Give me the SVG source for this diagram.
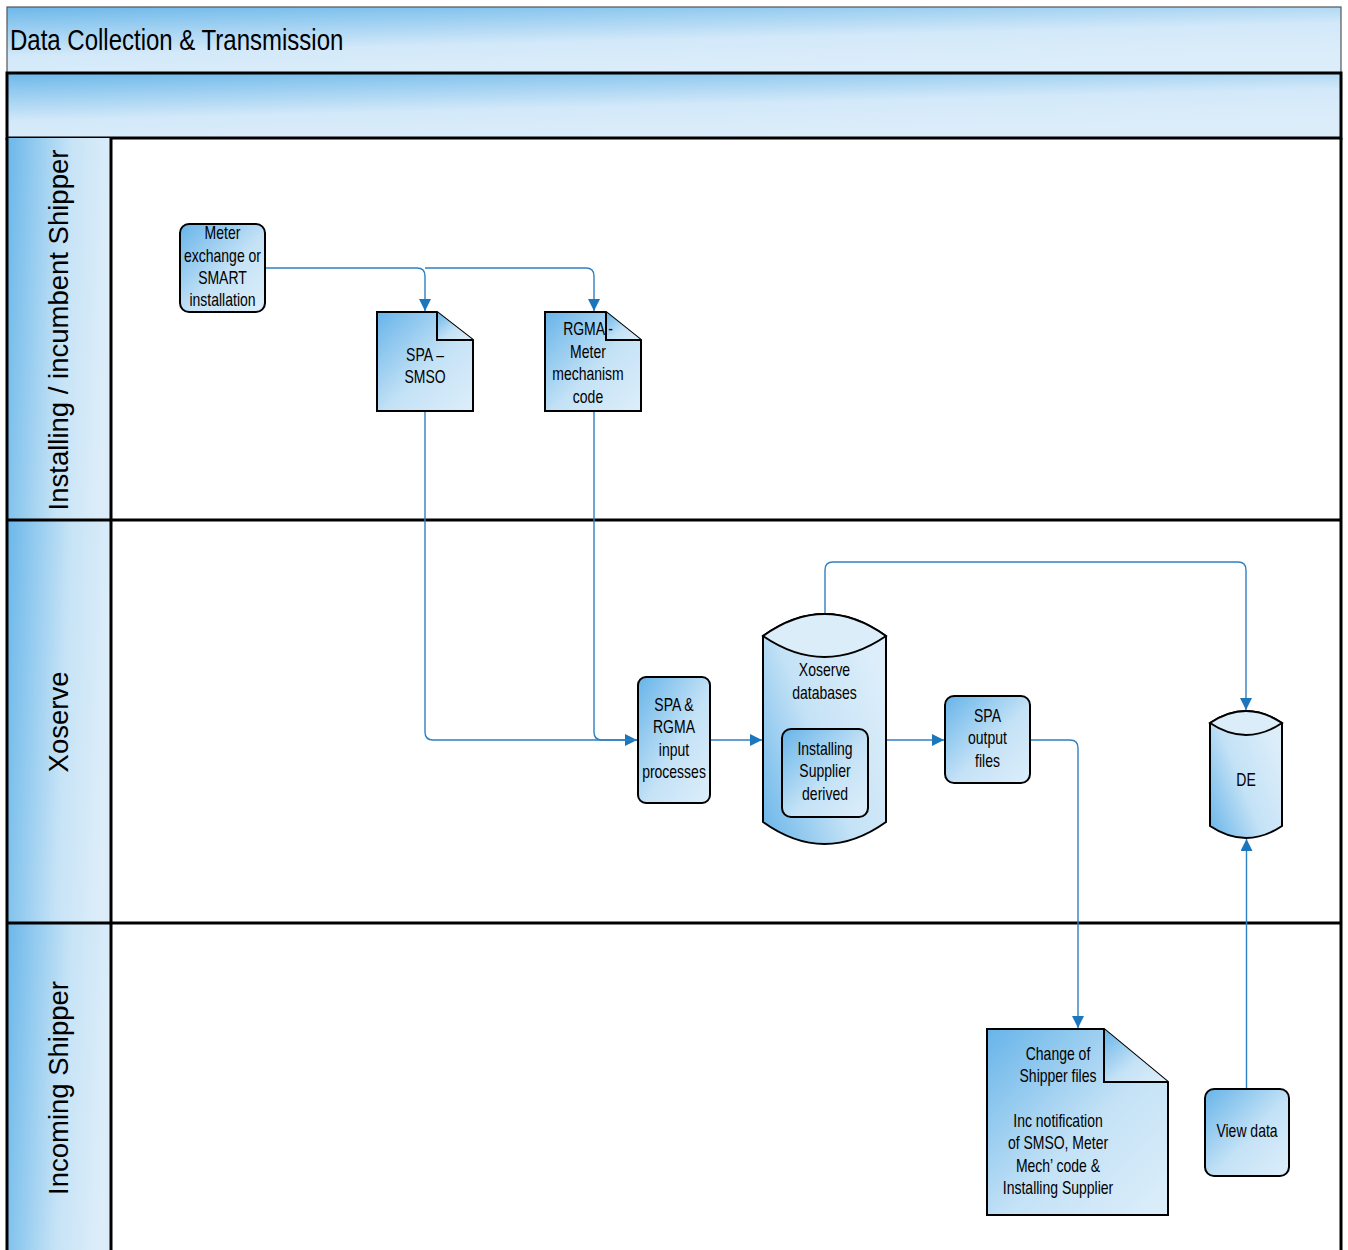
<svg xmlns="http://www.w3.org/2000/svg" width="1348" height="1250" viewBox="0 0 1348 1250">
<style>
.lane{fill:none;stroke:#000;stroke-width:3}
.node{stroke:#000;stroke-width:2;fill:url(#ng)}
.t{font-family:"Liberation Sans",Arial,sans-serif;font-size:17.5px;fill:#000;text-anchor:middle}
.lt{font-family:"Liberation Sans",Arial,sans-serif;font-size:27.5px;fill:#000;text-anchor:middle}
.c{fill:none;stroke:#2f80c2;stroke-width:1.4}
</style>
<defs>
<linearGradient id="ng" x1="0" y1="0" x2="1" y2="1">
<stop offset="0" stop-color="#67b4e9"/>
<stop offset="0.55" stop-color="#c4e2f6"/>
<stop offset="1" stop-color="#ddeefa"/>
</linearGradient>
<linearGradient id="cg" x1="0" y1="1" x2="1" y2="0.3">
<stop offset="0" stop-color="#67b4e9"/>
<stop offset="0.5" stop-color="#c4e2f6"/>
<stop offset="1" stop-color="#ddeefa"/>
</linearGradient>
<linearGradient id="hg" x1="0" y1="0" x2="1" y2="0.15">
<stop offset="0" stop-color="#6ab7ea"/>
<stop offset="0.6" stop-color="#c6e3f6"/>
<stop offset="1" stop-color="#dcedf9"/>
</linearGradient>
<linearGradient id="bg" x1="0" y1="0" x2="0.5" y2="1">
<stop offset="0" stop-color="#6cb8ea"/>
<stop offset="0.6" stop-color="#d3e9f9"/>
<stop offset="1" stop-color="#dcedfa"/>
</linearGradient>
<marker id="ar" viewBox="0 0 12 12" refX="12" refY="6" markerWidth="12" markerHeight="12" markerUnits="userSpaceOnUse" orient="auto">
<path d="M0,0 L12,6 L0,12 Z" fill="#1c76bc"/>
</marker>
</defs>
<rect width="1348" height="1250" fill="#fff"/>
<g id="pool">
<rect x="7" y="7" width="1334" height="66" fill="url(#bg)" stroke="#555" stroke-width="1.2"/>
<text transform="translate(10,50) scale(0.8,1)" font-family="Liberation Sans,Arial,sans-serif" font-size="30" fill="#000">Data Collection &amp; Transmission</text>
<rect x="7" y="73" width="1334" height="65" fill="url(#bg)" stroke="#000" stroke-width="3"/>
<rect x="7" y="138" width="104" height="382" fill="url(#hg)"/>
<rect x="7" y="520" width="104" height="403" fill="url(#hg)"/>
<rect x="7" y="923" width="104" height="330" fill="url(#hg)"/>
<path class="lane" d="M7,138 V1252 M111,138 V1252 M1341,138 V1252 M7,520 H1341 M7,923 H1341"/>
<text class="lt" transform="translate(68,330) rotate(-90)">Installing / incumbent Shipper</text>
<text class="lt" transform="translate(68,722) rotate(-90)">Xoserve</text>
<text class="lt" transform="translate(68,1088) rotate(-90)">Incoming Shipper</text>
</g>
<g id="connectors">
<path class="c" d="M265,268 H417 Q425,268 425,276 V311" marker-end="url(#ar)"/>
<path class="c" d="M425,268 H586 Q594,268 594,276 V311" marker-end="url(#ar)"/>
<path class="c" d="M425,411 V732 Q425,740 433,740 H637" marker-end="url(#ar)"/>
<path class="c" d="M594,411 V732 Q594,740 602,740 H637"/>
<path class="c" d="M710,740 H762" marker-end="url(#ar)"/>
<path class="c" d="M886,740 H944" marker-end="url(#ar)"/>
<path class="c" d="M1030,740 H1070 Q1078,740 1078,748 V1028" marker-end="url(#ar)"/>
<path class="c" d="M825,614 V570 Q825,562 833,562 H1238 Q1246,562 1246,570 V710" marker-end="url(#ar)"/>
<path class="c" d="M1246.5,1089 V839" marker-end="url(#ar)"/>
</g>
<g id="meter">
<rect class="node" x="180" y="224" width="85" height="88" rx="9"/>
<text class="t" transform="translate(222.5,0) scale(0.8,1)"><tspan x="0" y="239">Meter</tspan><tspan x="0" y="262">exchange or</tspan><tspan x="0" y="284">SMART</tspan><tspan x="0" y="306">installation</tspan></text>
</g>
<g id="spa-smso">
<path class="node" d="M377,312 H437 L473,340 V411 H377 Z"/>
<path class="node" d="M437,312 V340 H473"/>
<text class="t" transform="translate(425,0) scale(0.8,1)"><tspan x="0" y="361">SPA –</tspan><tspan x="0" y="383">SMSO</tspan></text>
</g>
<g id="rgma">
<path class="node" d="M545,312 H606 L641,340 V411 H545 Z"/>
<path class="node" d="M606,312 V340 H641"/>
<text class="t" transform="translate(588,0) scale(0.8,1)"><tspan x="0" y="335">RGMA -</tspan><tspan x="0" y="358">Meter</tspan><tspan x="0" y="380">mechanism</tspan><tspan x="0" y="403">code</tspan></text>
</g>
<g id="input">
<rect class="node" x="638" y="677" width="72" height="126" rx="8"/>
<text class="t" transform="translate(674,0) scale(0.8,1)"><tspan x="0" y="711">SPA &amp;</tspan><tspan x="0" y="733">RGMA</tspan><tspan x="0" y="756">input</tspan><tspan x="0" y="778">processes</tspan></text>
</g>
<g id="xoserve-db">
<path class="node" style="fill:url(#cg)" d="M763,636 Q824.5,592 886,636 V822 Q824.5,866 763,822 Z"/>
<path class="node" style="fill:#dcedfa" d="M763,636 Q824.5,592 886,636 Q824.5,678 763,636 Z"/>
<text class="t" transform="translate(824.5,0) scale(0.8,1)"><tspan x="0" y="676">Xoserve</tspan><tspan x="0" y="699">databases</tspan></text>
<rect class="node" x="782" y="729" width="86" height="88" rx="9"/>
<text class="t" transform="translate(825,0) scale(0.8,1)"><tspan x="0" y="755">Installing</tspan><tspan x="0" y="777">Supplier</tspan><tspan x="0" y="800">derived</tspan></text>
</g>
<g id="spa-output">
<rect class="node" x="945" y="696" width="85" height="87" rx="9"/>
<text class="t" transform="translate(987.5,0) scale(0.8,1)"><tspan x="0" y="722">SPA</tspan><tspan x="0" y="744">output</tspan><tspan x="0" y="767">files</tspan></text>
</g>
<g id="de">
<path class="node" style="fill:url(#cg)" d="M1210,723 Q1246,699 1282,723 V826 Q1246,850 1210,826 Z"/>
<path class="node" style="fill:#dcedfa" d="M1210,723 Q1246,699 1282,723 Q1246,747 1210,723 Z"/>
<text class="t" transform="translate(1246,0) scale(0.8,1)" x="0" y="786">DE</text>
</g>
<g id="change-of-shipper">
<path class="node" d="M987,1029 H1104 L1168,1082 V1215 H987 Z"/>
<path class="node" d="M1104,1029 V1082 H1168"/>
<text class="t" transform="translate(1058,0) scale(0.8,1)"><tspan x="0" y="1060">Change of</tspan><tspan x="0" y="1082">Shipper files</tspan><tspan x="0" y="1127">Inc notification</tspan><tspan x="0" y="1149">of SMSO, Meter</tspan><tspan x="0" y="1172">Mech’ code &amp;</tspan><tspan x="0" y="1194">Installing Supplier</tspan></text>
</g>
<g id="view-data">
<rect class="node" x="1205" y="1089" width="84" height="87" rx="9"/>
<text class="t" transform="translate(1247,0) scale(0.8,1)" x="0" y="1137">View data</text>
</g>
</svg>
